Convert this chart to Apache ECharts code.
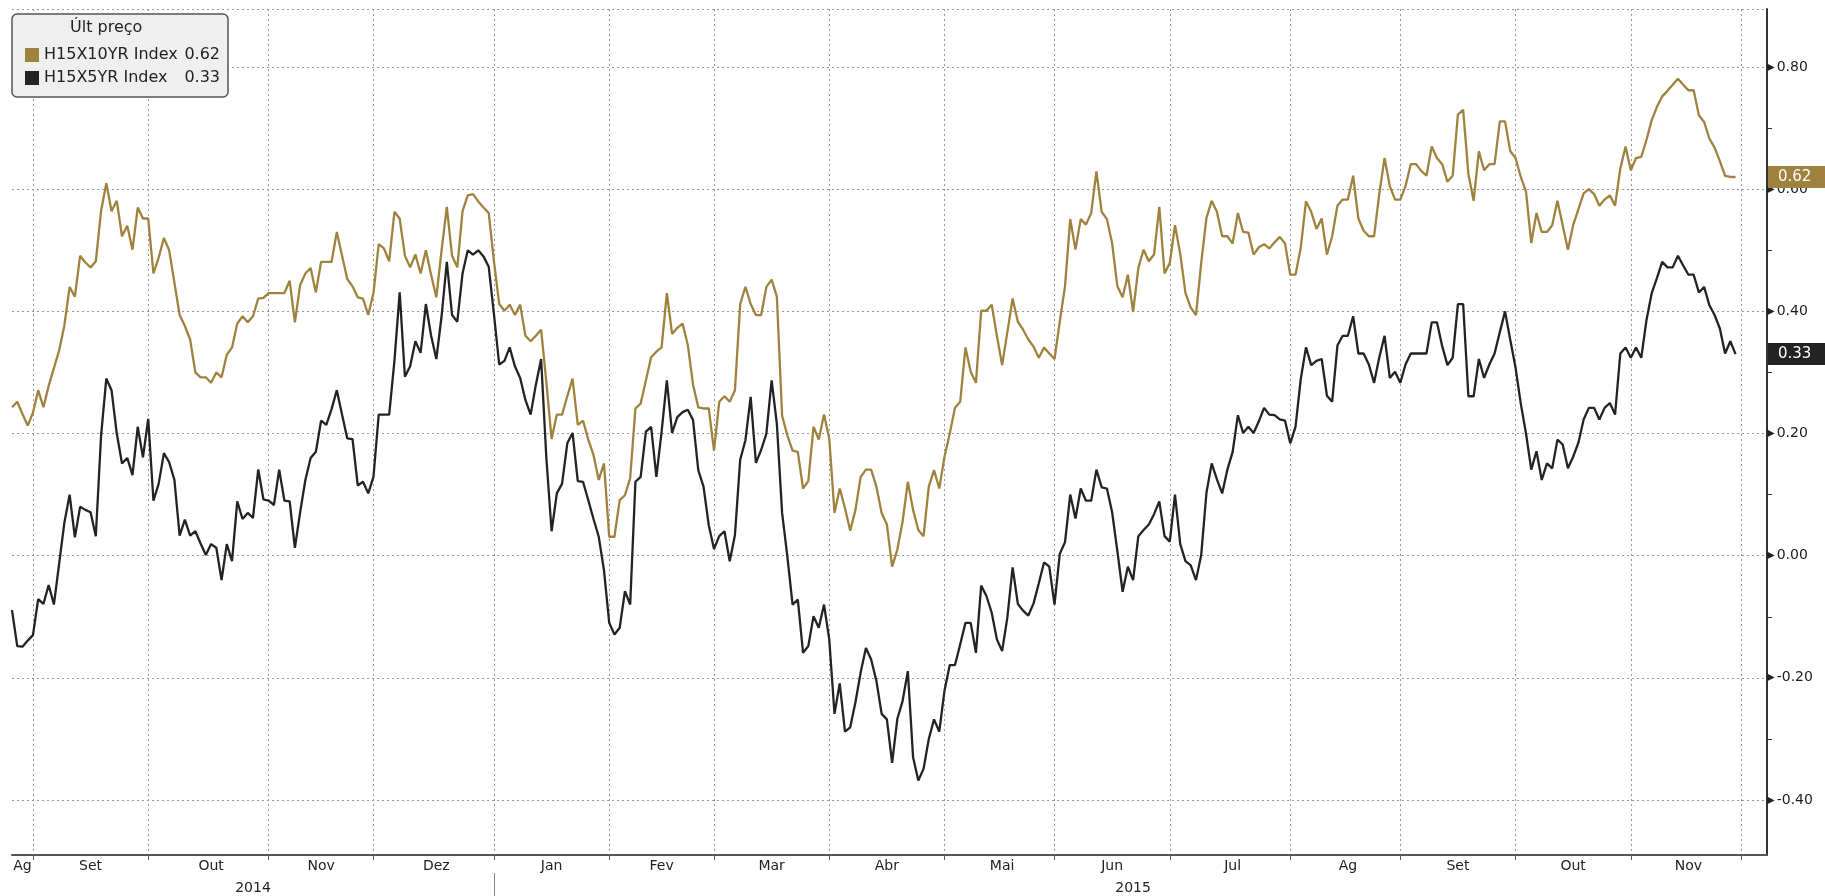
<!DOCTYPE html>
<html>
<head>
<meta charset="utf-8">
<title>H15X10YR / H15X5YR</title>
<script src="https://cdn.jsdelivr.net/npm/echarts@6/dist/echarts.min.js"></script>
<style>
  html, body { margin: 0; padding: 0; background: #fff; }
  #main { width: 1825px; height: 896px; }
</style>
</head>
<body>
<div id="main"></div>
<script>
// nomes e rótulos
const seriesNames = ['H15X10YR Index', 'H15X5YR Index']
const monthNames = ['Jan', 'Fev', 'Mar', 'Abr', 'Mai', 'Jun', 'Jul', 'Ag', 'Set', 'Out', 'Nov', 'Dez']
const legendTitle = 'Últ preço'

// valores diários (dias úteis) de 26/08/2014 a 30/11/2015
const gold = [
  0.243, 0.252, 0.232, 0.213, 0.234, 0.271, 0.243, 0.278, 0.307, 0.336,
  0.377, 0.44, 0.424, 0.491, 0.48, 0.472, 0.482, 0.564, 0.61, 0.564,
  0.581, 0.523, 0.54, 0.501, 0.57, 0.552, 0.552, 0.462, 0.488, 0.52,
  0.5, 0.447, 0.394, 0.376, 0.354, 0.3, 0.292, 0.292, 0.283, 0.3,
  0.292, 0.329, 0.341, 0.38, 0.392, 0.382, 0.392, 0.421, 0.422, 0.43,
  0.43, 0.43, 0.43, 0.45, 0.382, 0.443, 0.462, 0.471, 0.431, 0.481,
  0.481, 0.481, 0.53, 0.491, 0.453, 0.441, 0.423, 0.421, 0.394, 0.43,
  0.51, 0.503, 0.482, 0.563, 0.552, 0.491, 0.472, 0.493, 0.462, 0.5,
  0.46, 0.423, 0.5, 0.571, 0.491, 0.472, 0.564, 0.59, 0.592, 0.58,
  0.57, 0.561, 0.482, 0.412, 0.401, 0.411, 0.394, 0.411, 0.36, 0.351,
  0.36, 0.37, 0.284, 0.191, 0.231, 0.231, 0.261, 0.29, 0.214, 0.221,
  0.19, 0.165, 0.124, 0.151, 0.031, 0.031, 0.091, 0.099, 0.127, 0.241,
  0.249, 0.287, 0.325, 0.334, 0.341, 0.43, 0.363, 0.373, 0.38, 0.345,
  0.28, 0.243, 0.241, 0.241, 0.172, 0.252, 0.261, 0.252, 0.271, 0.412,
  0.44, 0.412, 0.394, 0.394, 0.44, 0.452, 0.424, 0.229, 0.197, 0.172,
  0.17, 0.11, 0.122, 0.211, 0.19, 0.231, 0.192, 0.07, 0.11, 0.078,
  0.041, 0.075, 0.129, 0.141, 0.141, 0.113, 0.07, 0.051, -0.018, 0.01,
  0.056, 0.121, 0.075, 0.042, 0.032, 0.113, 0.14, 0.11, 0.162, 0.2,
  0.242, 0.252, 0.341, 0.301, 0.283, 0.401, 0.401, 0.411, 0.36, 0.312,
  0.366, 0.421, 0.383, 0.37, 0.354, 0.342, 0.324, 0.341, 0.331, 0.322,
  0.383, 0.441, 0.551, 0.501, 0.551, 0.542, 0.561, 0.629, 0.563, 0.551,
  0.511, 0.441, 0.423, 0.46, 0.399, 0.471, 0.501, 0.482, 0.493, 0.571,
  0.462, 0.479, 0.541, 0.494, 0.43, 0.406, 0.394, 0.479, 0.553, 0.581,
  0.563, 0.523, 0.523, 0.511, 0.561, 0.53, 0.529, 0.493, 0.505, 0.51,
  0.503, 0.513, 0.522, 0.511, 0.46, 0.46, 0.504, 0.58, 0.563, 0.535,
  0.552, 0.493, 0.523, 0.573, 0.583, 0.583, 0.622, 0.552, 0.532, 0.523,
  0.523, 0.593, 0.651, 0.605, 0.583, 0.583, 0.605, 0.641, 0.641, 0.63,
  0.622, 0.67, 0.651, 0.641, 0.612, 0.622, 0.722, 0.73, 0.625, 0.581,
  0.662, 0.631, 0.641, 0.641, 0.711, 0.711, 0.662, 0.651, 0.62, 0.596,
  0.512, 0.561, 0.53, 0.53, 0.541, 0.581, 0.541, 0.501, 0.541, 0.567,
  0.593, 0.6, 0.592, 0.573, 0.583, 0.59, 0.573, 0.634, 0.67, 0.631,
  0.651, 0.653, 0.681, 0.713, 0.735, 0.752, 0.761, 0.771, 0.781, 0.771,
  0.762, 0.762, 0.721, 0.71, 0.683, 0.668, 0.646, 0.622, 0.62, 0.62
]
const black = [
  -0.089, -0.148, -0.149, -0.139, -0.13, -0.071, -0.079, -0.048, -0.08, -0.013,
  0.054, 0.1, 0.03, 0.08, 0.075, 0.071, 0.032, 0.196, 0.29, 0.271,
  0.2, 0.151, 0.16, 0.132, 0.211, 0.161, 0.224, 0.09, 0.118, 0.168,
  0.153, 0.124, 0.033, 0.059, 0.033, 0.04, 0.02, 0.001, 0.019, 0.013,
  -0.04, 0.019, -0.009, 0.089, 0.06, 0.07, 0.062, 0.141, 0.092, 0.09,
  0.083, 0.141, 0.09, 0.089, 0.013, 0.071, 0.124, 0.16, 0.17, 0.221,
  0.214, 0.24, 0.271, 0.231, 0.192, 0.191, 0.115, 0.121, 0.102, 0.129,
  0.231, 0.231, 0.231, 0.319, 0.431, 0.293, 0.31, 0.351, 0.332, 0.412,
  0.36, 0.322, 0.392, 0.481, 0.394, 0.383, 0.462, 0.5, 0.493, 0.5,
  0.49, 0.473, 0.395, 0.313, 0.319, 0.341, 0.31, 0.291, 0.255, 0.231,
  0.28, 0.322, 0.16, 0.04, 0.102, 0.118, 0.184, 0.201, 0.122, 0.121,
  0.091, 0.06, 0.031, -0.024, -0.11, -0.129, -0.118, -0.058, -0.08, 0.121,
  0.129, 0.203, 0.211, 0.129, 0.203, 0.287, 0.201, 0.227, 0.235, 0.239,
  0.222, 0.14, 0.113, 0.05, 0.011, 0.032, 0.04, -0.009, 0.034, 0.157,
  0.189, 0.26, 0.152, 0.173, 0.2, 0.287, 0.216, 0.07, -0.001, -0.08,
  -0.072, -0.159, -0.148, -0.099, -0.118, -0.08, -0.137, -0.259, -0.209, -0.288,
  -0.281, -0.24, -0.191, -0.151, -0.17, -0.205, -0.259, -0.268, -0.339, -0.267,
  -0.238, -0.189, -0.33, -0.368, -0.349, -0.3, -0.268, -0.288, -0.221, -0.179,
  -0.179, -0.145, -0.11, -0.11, -0.159, -0.049, -0.066, -0.093, -0.137, -0.156,
  -0.101, -0.019, -0.079, -0.09, -0.098, -0.078, -0.045, -0.011, -0.018, -0.08,
  0.003, 0.022, 0.1, 0.061, 0.11, 0.09, 0.09, 0.141, 0.112, 0.11,
  0.071, 0.007, -0.059, -0.018, -0.04, 0.032, 0.042, 0.051, 0.068, 0.089,
  0.032, 0.023, 0.1, 0.019, -0.009, -0.016, -0.04, 0.001, 0.103, 0.151,
  0.125, 0.102, 0.141, 0.17, 0.23, 0.201, 0.211, 0.201, 0.22, 0.242,
  0.231, 0.23, 0.223, 0.221, 0.184, 0.211, 0.289, 0.341, 0.312, 0.319,
  0.322, 0.262, 0.252, 0.344, 0.36, 0.36, 0.392, 0.331, 0.331, 0.313,
  0.283, 0.325, 0.36, 0.291, 0.301, 0.283, 0.313, 0.331, 0.331, 0.331,
  0.331, 0.382, 0.382, 0.343, 0.312, 0.324, 0.412, 0.412, 0.261, 0.261,
  0.322, 0.291, 0.313, 0.331, 0.366, 0.4, 0.353, 0.308, 0.249, 0.2,
  0.141, 0.171, 0.124, 0.151, 0.143, 0.19, 0.182, 0.143, 0.162, 0.185,
  0.223, 0.242, 0.242, 0.223, 0.242, 0.25, 0.231, 0.331, 0.341, 0.324,
  0.341, 0.324, 0.386, 0.43, 0.455, 0.481, 0.472, 0.472, 0.491, 0.475,
  0.46, 0.46, 0.431, 0.44, 0.41, 0.394, 0.372, 0.331, 0.351, 0.33
]

const GOLD = '#a0823f'
const DARK = '#232323'
const FONT = "'DejaVu Sans', sans-serif"

// eixo de datas: dias úteis, com alguns dias vazios em dezembro à direita
const dates = []
for (let t = Date.UTC(2014, 7, 26); t <= Date.UTC(2015, 11, 8); t += 864e5) {
  const d = new Date(t)
  const wd = d.getUTCDay()
  if (wd > 0 && wd < 6) dates.push(d.toISOString().slice(0, 10))
}
const lastIdx = gold.length - 1

const monthStarts = new Set()
const bounds = [0]
for (let i = 1; i < dates.length; i++) {
  if (dates[i].slice(5, 7) !== dates[i - 1].slice(5, 7)) {
    monthStarts.add(i)
    bounds.push(i)
  }
}
bounds.push(dates.length - 1)
const monthLabelIdx = new Set()
for (let k = 0; k < bounds.length - 1; k++) {
  if (bounds[k] > lastIdx) continue
  monthLabelIdx.add(Math.round((bounds[k] + bounds[k + 1]) / 2))
}
const yearStart = dates.findIndex(d => d.startsWith('2015'))
const yearLabelIdx = new Set([
  Math.round(yearStart / 2),
  Math.round((yearStart + dates.length - 1) / 2)
])

const isStep = v => Math.abs(v * 5 - Math.round(v * 5)) < 1e-6

const chart = echarts.init(document.getElementById('main'))

// etiqueta do último preço, presa ao eixo da direita
const tag = (value, color) => ({
  symbol: 'none',
  silent: true,
  lineStyle: { color: 'rgba(0,0,0,0)', width: 0, type: 'solid' },
  label: {
    show: true,
    position: 'end',
    distance: 1,
    formatter: value.toFixed(2),
    color: '#fff',
    backgroundColor: color,
    fontFamily: FONT,
    fontSize: 15,
    padding: [4, 14, 3, 10]
  },
  data: [{ yAxis: value }]
})

chart.setOption({
  backgroundColor: '#fff',
  animation: false,
  textStyle: { fontFamily: FONT },
  title: {
    text: legendTitle,
    left: 70,
    top: 20,
    padding: 0,
    textStyle: { fontFamily: FONT, fontSize: 16, fontWeight: 'normal', color: '#222' }
  },
  legend: {
    orient: 'vertical',
    left: 12,
    top: 14,
    icon: 'rect',
    itemWidth: 14,
    itemHeight: 14,
    itemGap: 5,
    padding: [32, 8, 10, 13],
    backgroundColor: '#efefef',
    borderColor: '#555',
    borderWidth: 1.5,
    borderRadius: 5,
    selectedMode: false,
    data: seriesNames,
    formatter: name => {
      const arr = name === seriesNames[0] ? gold : black
      return '{n|' + name + '}{v|' + arr[arr.length - 1].toFixed(2) + '}'
    },
    textStyle: {
      color: '#222',
      lineHeight: 18,
      rich: {
        n: { fontFamily: FONT, fontSize: 16, width: 134, color: '#222' },
        v: { fontFamily: FONT, fontSize: 16, width: 42, align: 'right', color: '#222' }
      }
    }
  },
  grid: { left: 12, right: 58, top: 9, bottom: 41, containLabel: false },
  xAxis: [
    {
      type: 'category',
      data: dates,
      boundaryGap: false,
      axisLine: { show: true, onZero: false, lineStyle: { color: '#555', width: 2 } },
      axisTick: {
        show: true,
        length: 5,
        interval: i => monthStarts.has(i),
        lineStyle: { color: '#555' }
      },
      axisLabel: {
        interval: i => monthLabelIdx.has(i),
        formatter: v => monthNames[+v.slice(5, 7) - 1],
        margin: 4,
        color: '#222',
        fontFamily: FONT,
        fontSize: 14
      },
      splitLine: {
        show: true,
        interval: i => monthStarts.has(i),
        lineStyle: { color: '#999', type: [2, 3], width: 1 }
      }
    },
    {
      type: 'category',
      data: dates,
      position: 'bottom',
      offset: 18,
      boundaryGap: false,
      axisLine: { show: false, onZero: false },
      axisTick: {
        show: true,
        length: 26,
        interval: i => i === yearStart,
        lineStyle: { color: '#888' }
      },
      axisLabel: {
        interval: i => yearLabelIdx.has(i),
        formatter: v => v.slice(0, 4),
        margin: 8,
        color: '#222',
        fontFamily: FONT,
        fontSize: 14
      },
      splitLine: { show: false }
    }
  ],
  yAxis: {
    type: 'value',
    position: 'right',
    min: -0.49,
    max: 0.895,
    splitNumber: 7,
    axisLine: { show: true, lineStyle: { color: '#333', width: 2 } },
    axisTick: { show: false },
    minorTick: { show: true, splitNumber: 2, length: 5, lineStyle: { color: '#333' } },
    axisLabel: {
      showMinLabel: false,
      showMaxLabel: false,
      margin: 0,
      formatter: v => isStep(v) ? '{t|▶}{v|' + v.toFixed(2) + '}' : '',
      rich: {
        t: { fontSize: 10, color: '#222', padding: [0, 2, 0, 0] },
        v: { fontFamily: FONT, fontSize: 14, color: '#1c1c1c' }
      }
    },
    splitLine: { show: true, lineStyle: { color: '#999', type: [2, 3], width: 1 } }
  },
  series: [
    {
      name: seriesNames[0],
      type: 'line',
      data: gold,
      showSymbol: false,
      color: GOLD,
      lineStyle: { width: 2.3, color: GOLD },
      markLine: tag(gold[lastIdx], GOLD)
    },
    {
      name: seriesNames[1],
      type: 'line',
      data: black,
      showSymbol: false,
      color: DARK,
      lineStyle: { width: 2.3, color: DARK },
      markLine: tag(black[black.length - 1], DARK)
    }
  ]
})
</script>
</body>
</html>
